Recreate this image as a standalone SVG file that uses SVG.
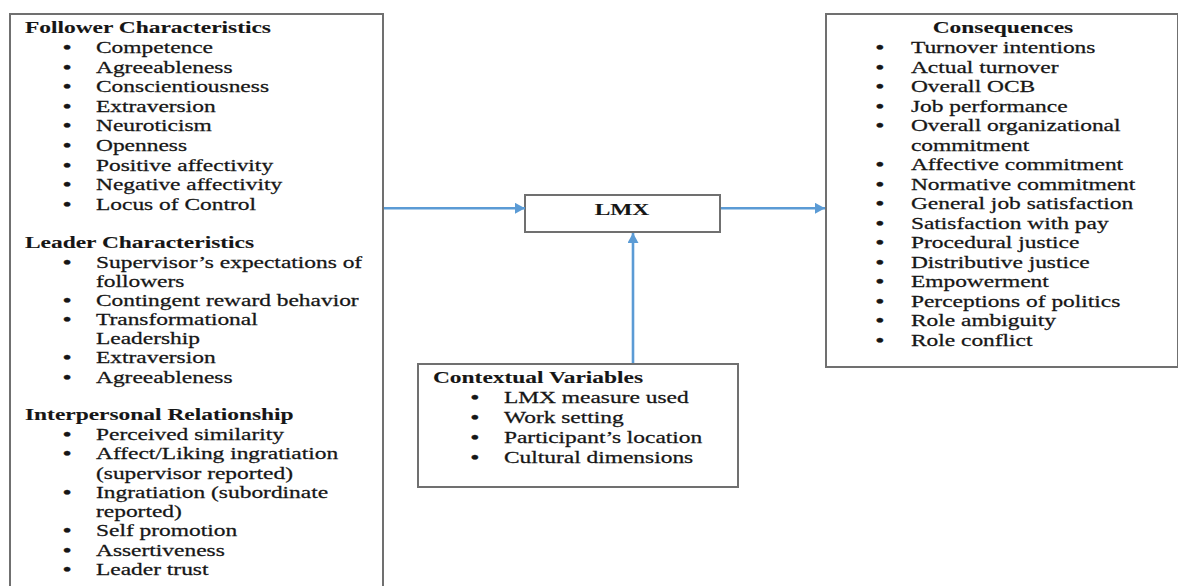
<svg xmlns="http://www.w3.org/2000/svg" width="1178" height="586" viewBox="0 0 1178 586">
  <style>
    .box { fill: #ffffff; stroke: #707070; stroke-width: 2; }
    .txt { font-family: "Liberation Serif", "Times New Roman", serif; font-size: 16.5px; fill: #161616; stroke: #161616; stroke-width: 0.25; }
    .hd { font-weight: bold; stroke-width: 0.1; }
    .bul { text-anchor: middle; font-weight: bold; }
    .conn { stroke: #5b9bd5; stroke-width: 2.6; fill: none; }
  </style>
  <defs>
    <marker id="arrow" markerUnits="userSpaceOnUse" markerWidth="12" markerHeight="12" refX="10" refY="5.5" orient="auto">
      <path d="M0,0 L10,5.5 L0,11 Z" fill="#5b9bd5"/>
    </marker>
  </defs>

  <rect width="1178" height="586" fill="#ffffff"/>

  <!-- Antecedents: follower, leader and relationship characteristics -->
  <g id="antecedents">
    <rect class="box" x="10" y="14" width="373" height="590"/>
    <g class="txt" transform="scale(1.42 1)">
      <text class="hd" x="17.6" y="33.5">Follower Characteristics</text>
      <g>
        <text class="bul" x="47.2" y="53">•</text><text x="67.6" y="53">Competence</text>
        <text class="bul" x="47.2" y="72.6">•</text><text x="67.6" y="72.6">Agreeableness</text>
        <text class="bul" x="47.2" y="92.2">•</text><text x="67.6" y="92.2">Conscientiousness</text>
        <text class="bul" x="47.2" y="111.8">•</text><text x="67.6" y="111.8">Extraversion</text>
        <text class="bul" x="47.2" y="131.4">•</text><text x="67.6" y="131.4">Neuroticism</text>
        <text class="bul" x="47.2" y="151">•</text><text x="67.6" y="151">Openness</text>
        <text class="bul" x="47.2" y="170.6">•</text><text x="67.6" y="170.6">Positive affectivity</text>
        <text class="bul" x="47.2" y="190.2">•</text><text x="67.6" y="190.2">Negative affectivity</text>
        <text class="bul" x="47.2" y="209.8">•</text><text x="67.6" y="209.8">Locus of Control</text>
      </g>

      <text class="hd" x="17.6" y="248">Leader Characteristics</text>
      <g>
        <text class="bul" x="47.2" y="268">•</text><text x="67.6" y="268">Supervisor’s expectations of</text>
        <text x="67.6" y="287">followers</text>
        <text class="bul" x="47.2" y="306">•</text><text x="67.6" y="306">Contingent reward behavior</text>
        <text class="bul" x="47.2" y="325">•</text><text x="67.6" y="325">Transformational</text>
        <text x="67.6" y="344.2">Leadership</text>
        <text class="bul" x="47.2" y="363.5">•</text><text x="67.6" y="363.5">Extraversion</text>
        <text class="bul" x="47.2" y="382.8">•</text><text x="67.6" y="382.8">Agreeableness</text>
      </g>

      <text class="hd" x="17.6" y="420">Interpersonal Relationship</text>
      <g>
        <text class="bul" x="47.2" y="440">•</text><text x="67.6" y="440">Perceived similarity</text>
        <text class="bul" x="47.2" y="459.3">•</text><text x="67.6" y="459.3">Affect/Liking ingratiation</text>
        <text x="67.6" y="478.6">(supervisor reported)</text>
        <text class="bul" x="47.2" y="497.9">•</text><text x="67.6" y="497.9">Ingratiation (subordinate</text>
        <text x="67.6" y="517.2">reported)</text>
        <text class="bul" x="47.2" y="536.5">•</text><text x="67.6" y="536.5">Self promotion</text>
        <text class="bul" x="47.2" y="555.8">•</text><text x="67.6" y="555.8">Assertiveness</text>
        <text class="bul" x="47.2" y="575.1">•</text><text x="67.6" y="575.1">Leader trust</text>
      </g>
    </g>
  </g>

  <!-- Central construct -->
  <g id="lmx">
    <rect class="box" x="525" y="195" width="195" height="37"/>
    <g class="txt" transform="scale(1.42 1)">
      <text class="hd" x="438" y="215.5" text-anchor="middle">LMX</text>
    </g>
  </g>

  <!-- Moderators -->
  <g id="contextual">
    <rect class="box" x="418" y="364" width="320" height="123"/>
    <g class="txt" transform="scale(1.42 1)">
      <text class="hd" x="304.9" y="383.3">Contextual Variables</text>
      <text class="bul" x="334.5" y="403.3">•</text><text x="354.9" y="403.3">LMX measure used</text>
      <text class="bul" x="334.5" y="423.3">•</text><text x="354.9" y="423.3">Work setting</text>
      <text class="bul" x="334.5" y="443.3">•</text><text x="354.9" y="443.3">Participant’s location</text>
      <text class="bul" x="334.5" y="463.3">•</text><text x="354.9" y="463.3">Cultural dimensions</text>
    </g>
  </g>

  <!-- Outcomes -->
  <g id="consequences">
    <rect class="box" x="826" y="14" width="352" height="353"/>
    <g class="txt" transform="scale(1.42 1)">
      <text class="hd" x="706.3" y="33.5" text-anchor="middle">Consequences</text>
      <text class="bul" x="619.7" y="53.3">•</text><text x="641.5" y="53.3">Turnover intentions</text>
      <text class="bul" x="619.7" y="72.8">•</text><text x="641.5" y="72.8">Actual turnover</text>
      <text class="bul" x="619.7" y="92.3">•</text><text x="641.5" y="92.3">Overall OCB</text>
      <text class="bul" x="619.7" y="111.8">•</text><text x="641.5" y="111.8">Job performance</text>
      <text class="bul" x="619.7" y="131.3">•</text><text x="641.5" y="131.3">Overall organizational</text>
      <text x="641.5" y="150.8">commitment</text>
      <text class="bul" x="619.7" y="170.5">•</text><text x="641.5" y="170.5">Affective commitment</text>
      <text class="bul" x="619.7" y="190">•</text><text x="641.5" y="190">Normative commitment</text>
      <text class="bul" x="619.7" y="209.5">•</text><text x="641.5" y="209.5">General job satisfaction</text>
      <text class="bul" x="619.7" y="229">•</text><text x="641.5" y="229">Satisfaction with pay</text>
      <text class="bul" x="619.7" y="248.5">•</text><text x="641.5" y="248.5">Procedural justice</text>
      <text class="bul" x="619.7" y="268">•</text><text x="641.5" y="268">Distributive justice</text>
      <text class="bul" x="619.7" y="287.5">•</text><text x="641.5" y="287.5">Empowerment</text>
      <text class="bul" x="619.7" y="307">•</text><text x="641.5" y="307">Perceptions of politics</text>
      <text class="bul" x="619.7" y="326.5">•</text><text x="641.5" y="326.5">Role ambiguity</text>
      <text class="bul" x="619.7" y="346">•</text><text x="641.5" y="346">Role conflict</text>
    </g>
  </g>

  <!-- Connectors -->
  <g id="connectors">
    <line class="conn" x1="384" y1="208.3" x2="525" y2="208.3" marker-end="url(#arrow)"/>
    <line class="conn" x1="721" y1="208.3" x2="825" y2="208.3" marker-end="url(#arrow)"/>
    <line class="conn" x1="633" y1="363" x2="633" y2="233" marker-end="url(#arrow)"/>
  </g>
</svg>
